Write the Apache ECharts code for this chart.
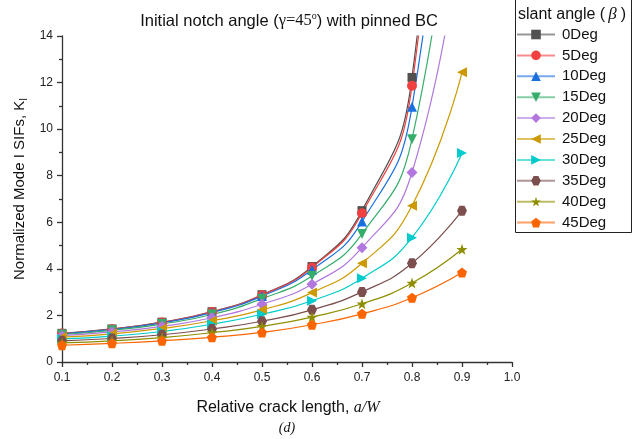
<!DOCTYPE html>
<html>
<head>
<meta charset="utf-8">
<script src="https://cdn.jsdelivr.net/npm/echarts@6/dist/echarts.min.js"></script>
<style>
  html, body { margin: 0; padding: 0; background: #fff; }
  #chart { width: 634px; height: 439px; }
</style>
</head>
<body>
<div id="chart"></div>
<script>
// relative crack length a/W
const crackLen = [0.1, 0.2, 0.3, 0.4, 0.5, 0.6, 0.7, 0.8, 0.9]

// normalized K_I per slant angle (0.9 values of the first five are off the chart)
const deg0 = [1.23, 1.42, 1.71, 2.16, 2.89, 4.10, 6.50, 12.22, 40]
const deg5 = [1.22, 1.41, 1.70, 2.15, 2.87, 4.06, 6.39, 11.86, 38]
const deg10 = [1.21, 1.40, 1.68, 2.12, 2.83, 3.96, 6.03, 10.96, 32]
const deg15 = [1.18, 1.36, 1.63, 2.04, 2.72, 3.69, 5.50, 9.57, 25]
const deg20 = [1.13, 1.29, 1.53, 1.90, 2.48, 3.34, 4.91, 8.14, 19]
const deg25 = [1.07, 1.21, 1.44, 1.77, 2.24, 2.98, 4.24, 6.71, 12.44]
const deg30 = [0.99, 1.11, 1.31, 1.62, 2.05, 2.63, 3.60, 5.34, 8.98]
const deg35 = [0.91, 1.01, 1.17, 1.42, 1.75, 2.24, 3.01, 4.24, 6.50]
const deg40 = [0.82, 0.91, 1.05, 1.26, 1.53, 1.93, 2.50, 3.39, 4.84]
const deg45 = [0.72, 0.80, 0.91, 1.06, 1.27, 1.60, 2.07, 2.76, 3.84]

const seriesNames = ['0Deg', '5Deg', '10Deg', '15Deg', '20Deg', '25Deg', '30Deg', '35Deg', '40Deg', '45Deg']
const seriesValues = [deg0, deg5, deg10, deg15, deg20, deg25, deg30, deg35, deg40, deg45]

// 配色和符号
const colors = ['#515151', '#F14040', '#1A6FDF', '#37AD6B', '#B177DE', '#CC9900', '#00CBCC', '#7D4E4E', '#8E8E00', '#FB6501']
const hexagon = 'path://M-10,0L-5,-8.66L5,-8.66L10,0L5,8.66L-5,8.66Z'
const star = 'path://M0,-10L2.35,-3.24L9.51,-3.09L3.8,1.24L5.88,8.09L0,4L-5.88,8.09L-3.8,1.24L-9.51,-3.09L-2.35,-3.24Z'
const pentagon = 'path://M0,-10L9.51,-3.09L5.88,8.09L-5.88,8.09L-9.51,-3.09Z'
const symbols = [
  ['rect', 0, 9], ['circle', 0, 10], ['triangle', 0, 10], ['triangle', 180, 10], ['diamond', 0, 11],
  ['triangle', 90, 10], ['triangle', -90, 10], [hexagon, 0, 10], [star, 0, 11], [pentagon, 0, 10]
]

const sans = 'Liberation Sans, Arial, sans-serif'
const serif = 'Liberation Serif, Times New Roman, serif'

let chart = null

const initOption = {
  animation: false,
  backgroundColor: '#fff',
  grid: {
    left: 62,
    right: 122,
    top: 36,
    bottom: 77
  },
  xAxis: {
    type: 'value',
    min: 0.1,
    max: 1.0,
    interval: 0.1,
    axisLine: { lineStyle: { color: '#333', width: 1.3 } },
    axisTick: { inside: false, length: 5, lineStyle: { color: '#333', width: 1.3 } },
    minorTick: { show: true, splitNumber: 2, length: 3, lineStyle: { color: '#333', width: 1.3 } },
    splitLine: { show: false },
    axisLabel: {
      margin: 10,
      fontSize: 12,
      fontFamily: sans,
      color: '#222',
      formatter: (v) => v.toFixed(1)
    }
  },
  yAxis: {
    type: 'value',
    min: 0,
    max: 14,
    interval: 2,
    axisLine: { show: true, lineStyle: { color: '#333', width: 1.3 } },
    axisTick: { show: true, inside: false, length: 5, lineStyle: { color: '#333', width: 1.3 } },
    minorTick: { show: true, splitNumber: 2, length: 3, lineStyle: { color: '#333', width: 1.3 } },
    splitLine: { show: false },
    axisLabel: {
      margin: 9,
      fontSize: 12,
      fontFamily: sans,
      color: '#222'
    }
  },
  legend: {
    orient: 'vertical',
    left: 516,
    top: 27,
    itemWidth: 38,
    itemHeight: 12,
    itemGap: 5.9,
    padding: 0,
    textStyle: { fontSize: 15, fontFamily: sans, color: '#111', padding: [0, 0, 0, 2] },
    lineStyle: { width: 2, opacity: 0.6 },
    data: seriesNames
  },
  graphic: [
    {
      type: 'rect',
      shape: { x: 515.5, y: -1, width: 116, height: 233.5 },
      style: { fill: 'none', stroke: '#222', lineWidth: 1 }
    },
    {
      type: 'text',
      x: 518,
      y: 15,
      style: {
        text: '{a|slant angle (}{b|β}{a|)}',
        verticalAlign: 'middle',
        rich: {
          a: { fontSize: 16, fontFamily: sans, fill: '#111' },
          b: { fontSize: 17, fontFamily: serif, fontStyle: 'italic', fill: '#111', padding: [0, 4, 0, 3] }
        }
      }
    },
    {
      type: 'text',
      x: 289,
      y: 21,
      style: {
        text: '{a|Initial notch angle (}{g|γ=45}{s|o}{a|) with pinned BC}',
        align: 'center',
        verticalAlign: 'middle',
        rich: {
          a: { fontSize: 16.5, fontFamily: sans, fill: '#111', lineHeight: 20 },
          g: { fontSize: 16.5, fontFamily: serif, fill: '#111', lineHeight: 20 },
          s: { fontSize: 10, fontFamily: serif, fill: '#111', lineHeight: 20, verticalAlign: 'top', padding: [0, 0, 9, 0] }
        }
      }
    },
    {
      type: 'text',
      x: 20,
      y: 189,
      rotation: Math.PI / 2,
      style: {
        text: '{a|Normalized Mode I SIFs, K}{s|I}',
        align: 'center',
        verticalAlign: 'middle',
        rich: {
          a: { fontSize: 15, fontFamily: sans, fill: '#111', lineHeight: 20 },
          s: { fontSize: 10, fontFamily: sans, fill: '#111', lineHeight: 20, padding: [8, 0, 0, 0] }
        }
      }
    },
    {
      type: 'text',
      x: 288,
      y: 408,
      style: {
        text: '{a|Relative crack length, }{i|a/W}',
        align: 'center',
        verticalAlign: 'middle',
        rich: {
          a: { fontSize: 16, fontFamily: sans, fill: '#111' },
          i: { fontSize: 16, fontFamily: serif, fontStyle: 'italic', fill: '#111' }
        }
      }
    },
    {
      type: 'text',
      x: 287,
      y: 428,
      style: {
        text: '(d)',
        align: 'center',
        verticalAlign: 'middle',
        fontSize: 14,
        fontFamily: serif,
        fontStyle: 'italic',
        fill: '#111'
      }
    }
  ],
  series: seriesNames.map((name, i) => ({
    name: name,
    type: 'line',
    smooth: true,
    clip: true,
    data: crackLen.map((x, j) => [x, seriesValues[i][j]]),
    symbol: symbols[i][0],
    symbolRotate: symbols[i][1],
    symbolSize: symbols[i][2],
    showAllSymbol: true,
    color: colors[i],
    lineStyle: { width: 1.2, color: colors[i] },
    itemStyle: { color: colors[i] }
  }))
}

function initChart(chartDom) {
  chart = echarts.init(chartDom, null, { renderer: 'canvas' })
  chart.setOption(initOption)
}

initChart(document.getElementById('chart'))
</script>
</body>
</html>
